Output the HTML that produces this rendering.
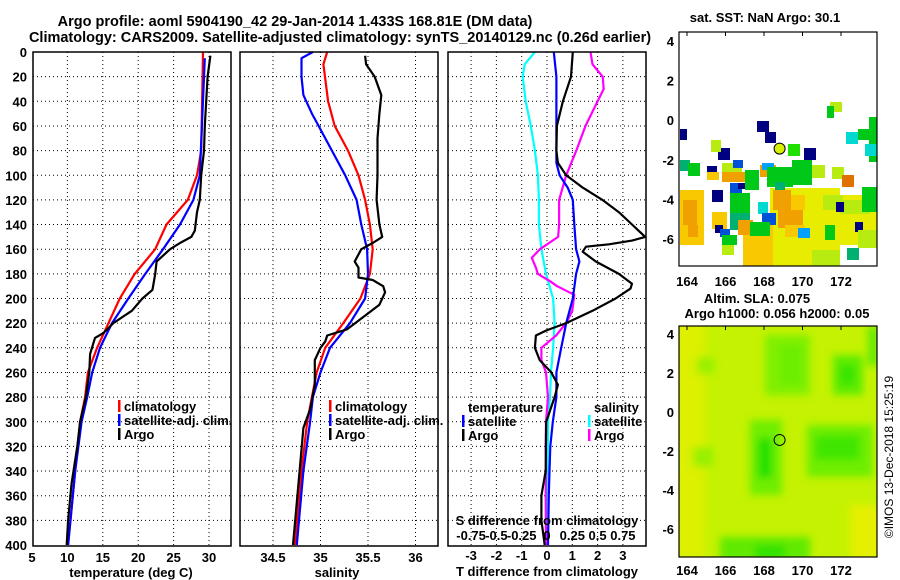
<!DOCTYPE html>
<html><head><meta charset="utf-8"><style>
html,body{margin:0;padding:0;background:#fff;}
svg{display:block;font-family:"Liberation Sans",sans-serif;font-weight:bold;}
text{fill:#000;font-size:13px;}
</style></head><body>
<svg id="chart" width="900" height="580" viewBox="0 0 900 580" xmlns="http://www.w3.org/2000/svg">
<defs><filter id="blr"><feGaussianBlur stdDeviation="4"/></filter>
<clipPath id="cm1"><rect x="679" y="32" width="198" height="234"/></clipPath>
<clipPath id="cm2"><rect x="679" y="326" width="198" height="231"/></clipPath></defs>
<text x="295" y="26" text-anchor="middle" style="font-size:14.5px">Argo profile: aoml 5904190_42 29-Jan-2014 1.433S 168.81E (DM data)</text>
<text x="340" y="42" text-anchor="middle" style="font-size:14.5px">Climatology: CARS2009. Satellite-adjusted climatology: synTS_20140129.nc (0.26d earlier)</text>
<g id="grids"></g>
<g id="lines"></g>
<g id="frames"></g>
<g id="labels"></g>
<g id="maps"></g>
<text transform="translate(893,457) rotate(-90)" text-anchor="middle" style="font-size:12px;font-weight:normal">©IMOS 13-Dec-2018 15:25:19</text>
</svg>
<script>
// ---- data ----
const tDepth = [0,80,100,120,140,160,180,200,220,240,260,280,300,340,400];
const tClim  = [29.15,28.9,28.3,27.0,24.0,22.4,19.5,17.4,15.8,14.2,12.9,12.5,11.8,11.1,10.1];
const tSatDepth = [5,100,120,140,160,180,200,220,240,260,280,300,340,400];
const tSat   = [29.4,28.7,27.8,25.9,23.5,21.0,18.6,16.3,14.6,13.5,12.8,12.0,11.1,10.1];
const argoDepth = [3,20,40,60,80,100,120,130,145,150,155,160,170,180,190,193,200,210,220,228,232,245,260,280,300,320,350,380,400];
const tArgo  = [30.2,29.8,29.6,29.4,29.3,28.9,28.7,28.3,28.0,27.5,25.9,24.5,22.6,22.4,22.1,22.0,20.6,19.1,16.5,15.1,13.9,13.2,13.1,12.6,11.8,11.4,10.6,10.1,9.9];
const sDepth = [0,5,20,35,50,60,80,100,120,140,160,180,200,220,240,260,280,300,340,400];
const sSat   = [34.92,34.80,34.80,34.82,34.91,34.98,35.12,35.26,35.38,35.43,35.49,35.50,35.47,35.31,35.10,35.00,34.92,34.89,34.82,34.75];
const sClimDepth = [0,10,40,60,80,100,120,140,160,180,200,220,240,260,280,300,340,400];
const sClim  = [35.07,35.03,35.08,35.15,35.29,35.40,35.47,35.52,35.55,35.52,35.42,35.24,35.05,34.96,34.91,34.86,34.80,34.73];
const sArgoDepth = [3,10,20,35,50,70,100,120,140,150,155,160,170,175,183,185,190,195,205,215,225,230,235,240,250,270,290,305,340,400];
const sArgo = [35.47,35.48,35.57,35.64,35.62,35.60,35.60,35.59,35.62,35.65,35.55,35.43,35.36,35.40,35.40,35.55,35.66,35.68,35.62,35.45,35.28,35.07,35.05,35.00,34.94,34.94,34.89,34.82,34.78,34.71];
const dTSatDepth = [0,20,40,60,80,90,100,110,120,140,160,170,180,200,220,240,260,280,300,320,340,360,400];
const dTSat = [0.27,0.37,0.37,0.37,0.37,0.37,0.5,0.82,1.02,1.08,1.15,1.28,1.15,1.02,0.76,0.56,0.37,0.37,0.23,0.13,0.1,0.07,0.04];
const dTArgoDepth = [0,20,40,60,80,90,100,110,120,130,140,150,153,156,158,162,170,180,188,192,200,210,220,226,230,240,250,260,270,280,300,340,360,380,400];
const dTArgo = [1.02,0.95,0.63,0.39,0.37,0.43,0.76,1.41,2.19,2.84,3.36,3.88,3.36,2.45,1.54,1.41,1.93,2.84,3.36,3.30,2.71,1.80,0.76,-0.03,-0.44,-0.48,-0.29,0.17,0.43,0.30,-0.03,-0.05,-0.22,-0.22,-0.09];
const dSSatDepth = [0,10,20,40,60,80,100,120,140,160,180,200,220,240,260,280,300,320,400];
const dSSat = [-0.12,-0.22,-0.24,-0.21,-0.16,-0.12,-0.09,-0.08,-0.08,-0.055,-0.01,0.06,0.075,0.06,0.04,0.03,0.01,0.01,0.0];
const dSArgoDepth = [0,10,20,30,40,60,80,100,120,140,150,160,167,175,180,186,190,197,210,220,230,240,250,260,280,300,320,340,360,400];
const dSArgo = [0.43,0.45,0.55,0.56,0.50,0.38,0.29,0.19,0.12,0.12,0.11,-0.07,-0.15,-0.11,-0.09,0.03,0.10,0.27,0.25,0.19,0.09,-0.055,-0.055,-0.01,0.01,-0.01,-0.013,-0.01,-0.013,-0.01];
const depthTicks = [0,20,40,60,80,100,120,140,160,180,200,220,240,260,280,300,320,340,360,380,400];
const tTicks = [5,10,15,20,25,30];
const sTicks = [34.5,35,35.5,36];
const sTickLabels = ["34.5","35","35.5","36"];
const dTTicks = [-3,-2,-1,0,1,2,3];
const dSTicks = [-0.75,-0.5,-0.25,0,0.25,0.5,0.75];
const dSTickLabels = ["-0.75","-0.5","-0.25","0","0.25","0.5","0.75"];
const lonTicks = [164,166,168,170,172];
const latTicks = [4,2,0,-2,-4,-6];
const argoLon = 168.81, argoLat = -1.433;

// ---- scales ----
const Y = d => 52 + d*1.2325;
const XT = t => 32 + (t-5)*7.08;
const XS = s => 273 + (s-34.5)*95;
const XD = t => 547 + t*25.3;
const XDS = s => XD(s*4);
const panels = [[33,231],[240,438],[448,646]];
const NS = "http://www.w3.org/2000/svg";
function mk(tag, attrs, parent){const e=document.createElementNS(NS,tag);for(const k in attrs)e.setAttribute(k,attrs[k]);parent.appendChild(e);return e;}
const G = id => document.getElementById(id);

// grids
const grids=G('grids');
panels.forEach(p=>{
  depthTicks.forEach(d=>{ if(d>0&&d<400){const l=mk('line',{x1:p[0],x2:p[1],y1:Y(d),y2:Y(d),stroke:'#000','stroke-width':1,'stroke-dasharray':'1 3'},grids);
    
    }});
});
function vgrid(xs){xs.forEach(x=>{const l=mk('line',{x1:x,x2:x,y1:52,y2:546,stroke:'#000','stroke-width':1,'stroke-dasharray':'1 3'},grids);
  
  });}
vgrid(tTicks.slice(1).map(XT));
vgrid(sTicks.map(XS));
vgrid(dTTicks.map(XD));

// lines
const lines=G('lines');
function prof(xs,ds,fx,color,name){
  const d=xs.map((v,i)=>(i?'L':'M')+fx(v).toFixed(1)+' '+Y(ds[i]).toFixed(1)).join(' ');
  const p=mk('path',{d:d,fill:'none',stroke:color,'stroke-width':2.2,'stroke-linejoin':'round'},lines);
  
  
}
prof(tClim,tDepth,XT,'#ff0000','temp-climatology-line');
prof(tSat,tSatDepth,XT,'#0000ff','temp-satellite-line');
prof(tArgo,argoDepth,XT,'#000','temp-argo-line');
prof(sClim,sClimDepth,XS,'#ff0000','sal-climatology-line');
prof(sSat,sDepth,XS,'#0000ff','sal-satellite-line');
prof(sArgo,sArgoDepth,XS,'#000','sal-argo-line');
prof(dSSat,dSSatDepth,XDS,'#00ffff','sdiff-satellite-line');
prof(dSArgo,dSArgoDepth,XDS,'#ff00ff','sdiff-argo-line');
prof(dTSat,dTSatDepth,XD,'#0000ff','tdiff-satellite-line');
prof(dTArgo,dTArgoDepth,XD,'#000','tdiff-argo-line');

// frames
const fr=G('frames');
panels.forEach((p,i)=>{const r=mk('rect',{x:p[0],y:52,width:p[1]-p[0],height:494,fill:'none',stroke:'#000','stroke-width':1.5},fr);
  
  });

// labels
const lb=G('labels');
function txt(x,y,s,anchor,name,size){const t=mk('text',{x:x,y:y,'text-anchor':anchor||'start'},lb);if(size)t.style.fontSize=size+'px';t.textContent=s;
  
  return t;}
depthTicks.forEach(d=>txt(27,Y(d)+5,String(d),'end','depth-tick-label'));
tTicks.forEach(t=>txt(XT(t),562,String(t),'middle','temp-tick-label'));
sTicks.forEach((s,i)=>txt(XS(s),562,sTickLabels[i],'middle','salinity-tick-label'));
dTTicks.forEach(t=>txt(XD(t),560,String(t),'middle','tdiff-tick-label'));
dSTicks.forEach((s,i)=>txt(XDS(s),540,dSTickLabels[i],'middle','sdiff-tick-label'));
txt(131,577,'temperature (deg C)','middle','temp-axis-title');
txt(337,577,'salinity','middle','salinity-axis-title');
txt(547,576,'T difference from climatology','middle','tdiff-axis-title');
txt(547,525,'S difference from climatology','middle','sdiff-axis-title');
function leg(x,y,color,s,name){const r=mk('rect',{x:x,y:y-11,width:2.5,height:12,fill:color},lb);
  
  
  txt(x+6,y,s,'start',name);}
leg(118,411,'#ff0000','climatology','legend-climatology');
leg(118,425,'#0000ff','satellite-adj. clim.','legend-satellite-adj');
leg(118,439,'#000','Argo','legend-argo');
leg(329,411,'#ff0000','climatology','legend2-climatology');
leg(329,425,'#0000ff','satellite-adj. clim.','legend2-satellite-adj');
leg(329,439,'#000','Argo','legend2-argo');
txt(468,412,'temperature','start','legend-temperature-heading');
txt(594,412,'salinity','start','legend-salinity-heading');
leg(462,426,'#0000ff','satellite','legend-tdiff-satellite');
leg(462,440,'#000','Argo','legend-tdiff-argo');
leg(588,426,'#00ffff','satellite','legend-sdiff-satellite');
leg(588,440,'#ff00ff','Argo','legend-sdiff-argo');

// maps
const mp=G('maps');
const LX = lon => 687 + (lon-164)*19.25;
const LY1 = lat => 41 + (4-lat)*19.8;
const LY2 = lat => 334 + (4-lat)*19.5;
const C={n:'#000080',b:'#0050d8',lb:'#00a0ff',c:'#00d8d0',t:'#00b070',g:'#00c818',lg:'#20e000',yg:'#b8ec10',y:'#e8ec00',go:'#f8c800',o:'#f0a000',do:'#e07000'};
const cells=[
[680,190,24,55,'go'],[683,200,14,25,'o'],[688,225,10,12,'o'],
[770,188,70,78,'y'],[840,195,37,50,'y'],[743,222,30,44,'go'],[812,250,28,16,'yg'],
[773,190,18,20,'o'],[791,195,14,15,'go'],[778,210,25,18,'o'],[785,225,20,12,'go'],[798,228,12,10,'lb'],
[823,195,20,15,'yg'],[840,200,30,14,'yg'],[836,202,8,10,'n'],[862,187,15,25,'g'],[855,222,8,10,'n'],[847,248,12,12,'t'],[825,225,10,15,'g'],[858,230,19,18,'yg'],
[712,190,11,12,'n'],[730,183,12,10,'b'],[738,183,8,6,'n'],[730,193,20,20,'g'],[730,213,20,17,'t'],[758,202,10,12,'c'],[762,213,14,12,'b'],
[712,212,15,17,'go'],[715,225,8,8,'n'],[720,229,10,8,'b'],[722,235,15,10,'g'],[722,245,12,10,'yg'],[738,220,15,15,'o'],[750,222,20,14,'g'],
[680,160,10,11,'t'],[688,163,12,13,'g'],[707,166,10,6,'n'],[707,172,12,8,'go'],[722,163,20,12,'yg'],[722,172,25,10,'o'],[733,160,10,8,'b'],[745,170,14,20,'g'],[760,165,16,12,'o'],[762,163,12,7,'lb'],[767,167,26,20,'g'],[792,160,20,25,'g'],[812,165,13,13,'yg'],[832,167,12,12,'yg'],[842,175,12,12,'do'],[775,182,10,8,'t'],
[680,129,7,11,'n'],[757,121,12,11,'n'],[765,132,11,11,'n'],[718,148,12,12,'n'],[804,148,12,12,'n'],[711,140,10,12,'yg'],[788,144,12,12,'lg'],[830,102,12,10,'yg'],[827,106,7,12,'g'],[846,132,12,12,'c'],[858,129,12,11,'g'],[869,117,8,45,'g'],[865,144,12,12,'c']];
const cg=mk('g',{'clip-path':'url(#cm1)'},mp);
cells.forEach(c=>{const r=mk('rect',{x:c[0],y:c[1],width:c[2],height:c[3],fill:C[c[4]]},cg);
  
  });
// bottom map
const bg=mk('rect',{x:679,y:326,width:198,height:231,fill:'#c4f200'},mp);


const bl0=mk('g',{'clip-path':'url(#cm2)'},mp);
const bl=mk('g',{filter:'url(#blr)'},bl0);
const blobs=[[670,320,35,240,'#dcf000'],[850,505,35,60,'#e4f000'],[697,357,17,17,'#98f000'],[693,447,20,20,'#98f000'],[765,335,45,60,'#80f000'],[780,345,22,40,'#6cee00'],[833,355,30,40,'#60ec00'],[840,365,15,20,'#38e400'],[750,420,32,75,'#70ee00'],[758,438,14,40,'#20e000'],[807,425,66,52,'#70ee00'],[815,435,45,25,'#40e600'],[720,537,90,25,'#60ea00'],[755,545,30,15,'#30e200'],[868,326,10,40,'#60ea00']];
blobs.forEach(b=>mk('rect',{x:b[0],y:b[1],width:b[2],height:b[3],fill:b[4]},bl));
[[679,32,198,234],[679,326,198,231]].forEach(f=>{const r=mk('rect',{x:f[0],y:f[1],width:f[2],height:f[3],fill:'none',stroke:'#000','stroke-width':1.2},mp);
  
  });
function mtxt(x,y,s,a,name){const t=mk('text',{x:x,y:y,'text-anchor':a},mp);t.textContent=s;
  
  }
lonTicks.forEach(l=>{mtxt(LX(l),286,String(l),'middle','map-lon-label');mtxt(LX(l),575,String(l),'middle','map-lon-label');
  mk('line',{x1:LX(l),x2:LX(l),y1:32,y2:36,stroke:'#000'},mp);mk('line',{x1:LX(l),x2:LX(l),y1:326,y2:330,stroke:'#000'},mp);});
latTicks.forEach(l=>{mtxt(674,LY1(l)+5,String(l),'end','map-lat-label');mtxt(674,LY2(l)+5,String(l),'end','map-lat-label');});
mtxt(765,22,'sat. SST: NaN Argo: 30.1','middle','sst-map-title');
mtxt(757,303,'Altim. SLA: 0.075','middle','sla-map-title');
mtxt(777,318,'Argo h1000: 0.056 h2000: 0.05','middle','sla-map-subtitle');
const a1=mk('circle',{cx:LX(argoLon),cy:LY1(argoLat),r:5.5,fill:'#d8f000',stroke:'#000','stroke-width':1},mp);


const a2=mk('circle',{cx:LX(argoLon),cy:LY2(argoLat),r:5.5,fill:'none',stroke:'#000','stroke-width':1},mp);


</script>
</body></html>
